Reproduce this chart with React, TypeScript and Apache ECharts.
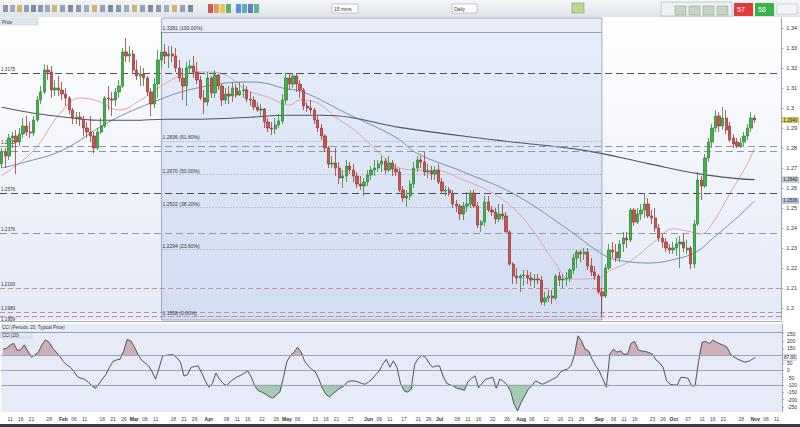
import React, { useEffect, useRef } from "react";
import * as echarts from "echarts";

// ---------- categories ----------
const START = Date.UTC(2019, 0, 9);
const DATA_DAYS = 213;
const FUTURE_DAYS = 7;
const MONTH_NAMES = ["Jan", "Feb", "Mar", "Apr", "May", "Jun", "Jul", "Aug", "Sep", "Oct", "Nov", "Dec"];
const DAY_MARKS = [6, 11, 16, 21, 26];

// ---------- OHLC [open, close, low, high] ----------
const jan = [
  [1.2720, 1.2780, 1.2700, 1.2800], [1.2780, 1.2760, 1.2700, 1.2800], [1.2760, 1.2850, 1.2740, 1.2870],
  [1.2850, 1.2860, 1.2800, 1.2880], [1.2860, 1.2830, 1.2670, 1.2890], [1.2830, 1.2870, 1.2810, 1.2900],
  [1.2870, 1.2910, 1.2850, 1.2950], [1.2910, 1.2880, 1.2860, 1.2960], [1.2880, 1.2875, 1.2850, 1.2930],
  [1.2875, 1.2940, 1.2860, 1.2960], [1.2940, 1.3040, 1.2930, 1.3060], [1.3040, 1.3080, 1.3020, 1.3110],
  [1.3080, 1.3190, 1.3070, 1.3218], [1.3190, 1.3180, 1.3140, 1.3215], [1.3180, 1.3090, 1.3050, 1.3210],
  [1.3090, 1.3100, 1.3060, 1.3140], [1.3100, 1.3090, 1.3060, 1.3160],
];
const feb = [
  [1.3090, 1.3070, 1.3040, 1.3130], [1.3070, 1.3050, 1.3010, 1.3100], [1.3050, 1.2990, 1.2970, 1.3060],
  [1.2990, 1.2950, 1.2920, 1.3000], [1.2950, 1.2955, 1.2920, 1.2980], [1.2955, 1.2945, 1.2910, 1.2980],
  [1.2945, 1.2900, 1.2860, 1.2960], [1.2900, 1.2880, 1.2850, 1.2930], [1.2880, 1.2860, 1.2830, 1.2960],
  [1.2860, 1.2800, 1.2773, 1.2880], [1.2800, 1.2880, 1.2790, 1.2900], [1.2880, 1.2910, 1.2870, 1.2950],
  [1.2910, 1.3050, 1.2900, 1.3060], [1.3050, 1.3045, 1.2990, 1.3110], [1.3045, 1.3040, 1.2960, 1.3080],
  [1.3040, 1.3080, 1.3010, 1.3100], [1.3080, 1.3110, 1.3050, 1.3140], [1.3110, 1.3280, 1.3100, 1.3300],
  [1.3280, 1.3260, 1.3230, 1.3350], [1.3260, 1.3270, 1.3230, 1.3310],
];
const mar = [
  [1.3270, 1.3190, 1.3170, 1.3290], [1.3190, 1.3160, 1.3140, 1.3240], [1.3160, 1.3170, 1.3110, 1.3210],
  [1.3170, 1.3150, 1.3110, 1.3200], [1.3150, 1.3080, 1.3060, 1.3160], [1.3080, 1.3020, 1.2960, 1.3100],
  [1.3020, 1.3120, 1.3000, 1.3150], [1.3120, 1.3240, 1.3050, 1.3290], [1.3240, 1.3280, 1.3200, 1.3381],
  [1.3280, 1.3260, 1.3220, 1.3320], [1.3260, 1.3270, 1.3200, 1.3310], [1.3270, 1.3260, 1.3230, 1.3310],
  [1.3260, 1.3200, 1.3180, 1.3300], [1.3200, 1.3150, 1.3130, 1.3240], [1.3150, 1.3110, 1.3040, 1.3200],
  [1.3110, 1.3200, 1.3010, 1.3230], [1.3200, 1.3210, 1.3170, 1.3240], [1.3210, 1.3180, 1.3150, 1.3260],
  [1.3180, 1.3140, 1.3120, 1.3230], [1.3140, 1.3050, 1.3040, 1.3160], [1.3050, 1.3030, 1.2970, 1.3090],
];
const apr = [
  [1.3030, 1.3150, 1.3010, 1.3180], [1.3150, 1.3075, 1.3050, 1.3160], [1.3075, 1.3165, 1.3050, 1.3190],
  [1.3165, 1.3110, 1.3090, 1.3170], [1.3110, 1.3040, 1.3010, 1.3120], [1.3040, 1.3070, 1.3020, 1.3100],
  [1.3070, 1.3060, 1.3020, 1.3110], [1.3060, 1.3100, 1.3030, 1.3130], [1.3100, 1.3065, 1.3050, 1.3120],
  [1.3065, 1.3085, 1.3060, 1.3130], [1.3085, 1.3090, 1.3050, 1.3120], [1.3090, 1.3045, 1.3030, 1.3110],
  [1.3045, 1.3040, 1.3010, 1.3080], [1.3040, 1.3005, 1.2990, 1.3060], [1.3005, 1.2990, 1.2980, 1.3030],
  [1.2990, 1.2995, 1.2960, 1.3020], [1.2995, 1.2930, 1.2900, 1.3000], [1.2930, 1.2900, 1.2880, 1.2950],
  [1.2900, 1.2895, 1.2865, 1.2930], [1.2895, 1.2915, 1.2870, 1.2950], [1.2915, 1.2935, 1.2900, 1.2970],
  [1.2935, 1.3040, 1.2920, 1.3070],
];
const may = [
  [1.3040, 1.3150, 1.3020, 1.3176], [1.3150, 1.3120, 1.3090, 1.3170], [1.3120, 1.3160, 1.3100, 1.3175],
  [1.3160, 1.3120, 1.3080, 1.3175], [1.3120, 1.3090, 1.3050, 1.3140], [1.3090, 1.3010, 1.2990, 1.3100],
  [1.3010, 1.3000, 1.2980, 1.3030], [1.3000, 1.2990, 1.2970, 1.3040], [1.2990, 1.2940, 1.2920, 1.3000],
  [1.2940, 1.2900, 1.2880, 1.2960], [1.2900, 1.2860, 1.2840, 1.2920], [1.2860, 1.2800, 1.2780, 1.2870],
  [1.2800, 1.2720, 1.2700, 1.2810], [1.2720, 1.2725, 1.2700, 1.2760], [1.2725, 1.2700, 1.2660, 1.2800],
  [1.2700, 1.2650, 1.2620, 1.2730], [1.2650, 1.2660, 1.2600, 1.2690], [1.2660, 1.2710, 1.2630, 1.2740],
  [1.2710, 1.2690, 1.2670, 1.2730], [1.2690, 1.2660, 1.2630, 1.2720], [1.2660, 1.2620, 1.2600, 1.2680],
  [1.2620, 1.2610, 1.2590, 1.2660], [1.2610, 1.2630, 1.2560, 1.2650],
];
const jun = [
  [1.2630, 1.2665, 1.2610, 1.2690], [1.2665, 1.2690, 1.2640, 1.2710], [1.2690, 1.2700, 1.2660, 1.2740],
  [1.2700, 1.2720, 1.2680, 1.2740], [1.2720, 1.2735, 1.2680, 1.2760], [1.2735, 1.2690, 1.2670, 1.2750],
  [1.2690, 1.2725, 1.2680, 1.2760], [1.2725, 1.2695, 1.2660, 1.2740], [1.2695, 1.2680, 1.2660, 1.2720],
  [1.2680, 1.2590, 1.2580, 1.2700], [1.2590, 1.2550, 1.2530, 1.2610], [1.2550, 1.2560, 1.2506, 1.2590],
  [1.2560, 1.2620, 1.2540, 1.2640], [1.2620, 1.2700, 1.2600, 1.2730], [1.2700, 1.2740, 1.2680, 1.2760],
  [1.2740, 1.2730, 1.2700, 1.2760], [1.2730, 1.2680, 1.2660, 1.2780], [1.2680, 1.2685, 1.2650, 1.2720],
  [1.2685, 1.2670, 1.2640, 1.2710], [1.2670, 1.2690, 1.2640, 1.2710],
];
const jul = [
  [1.2690, 1.2630, 1.2620, 1.2720], [1.2630, 1.2585, 1.2570, 1.2650], [1.2585, 1.2590, 1.2560, 1.2610],
  [1.2590, 1.2575, 1.2560, 1.2605], [1.2575, 1.2520, 1.2500, 1.2590], [1.2520, 1.2510, 1.2480, 1.2540],
  [1.2510, 1.2470, 1.2440, 1.2520], [1.2470, 1.2510, 1.2440, 1.2530], [1.2510, 1.2520, 1.2480, 1.2580],
  [1.2520, 1.2575, 1.2500, 1.2590], [1.2575, 1.2510, 1.2500, 1.2590], [1.2510, 1.2415, 1.2400, 1.2530],
  [1.2415, 1.2430, 1.2380, 1.2440], [1.2430, 1.2530, 1.2410, 1.2560], [1.2530, 1.2490, 1.2480, 1.2560],
  [1.2490, 1.2480, 1.2460, 1.2510], [1.2480, 1.2445, 1.2420, 1.2500], [1.2445, 1.2470, 1.2430, 1.2520],
  [1.2470, 1.2460, 1.2440, 1.2520], [1.2460, 1.2380, 1.2380, 1.2480], [1.2380, 1.2220, 1.2210, 1.2390],
  [1.2220, 1.2160, 1.2120, 1.2230], [1.2160, 1.2150, 1.2120, 1.2200],
];
const aug = [
  [1.2150, 1.2160, 1.2080, 1.2170], [1.2160, 1.2165, 1.2110, 1.2190], [1.2165, 1.2150, 1.2120, 1.2190],
  [1.2150, 1.2140, 1.2110, 1.2180], [1.2140, 1.2145, 1.2100, 1.2170], [1.2145, 1.2140, 1.2120, 1.2170],
  [1.2140, 1.2030, 1.2015, 1.2160], [1.2030, 1.2050, 1.2010, 1.2080], [1.2050, 1.2060, 1.2030, 1.2090],
  [1.2060, 1.2050, 1.2020, 1.2090], [1.2050, 1.2160, 1.2040, 1.2170], [1.2160, 1.2140, 1.2110, 1.2180],
  [1.2140, 1.2145, 1.2100, 1.2170], [1.2145, 1.2150, 1.2110, 1.2180], [1.2150, 1.2190, 1.2130, 1.2200],
  [1.2190, 1.2250, 1.2170, 1.2270], [1.2250, 1.2280, 1.2200, 1.2290], [1.2280, 1.2270, 1.2230, 1.2290],
  [1.2270, 1.2280, 1.2240, 1.2300], [1.2280, 1.2210, 1.2190, 1.2300], [1.2210, 1.2180, 1.2160, 1.2250],
  [1.2180, 1.2160, 1.2140, 1.2210],
];
const sep = [
  [1.2160, 1.2080, 1.2070, 1.2170], [1.2080, 1.2060, 1.1958, 1.2100], [1.2060, 1.2200, 1.2050, 1.2220],
  [1.2200, 1.2290, 1.2190, 1.2320], [1.2290, 1.2280, 1.2250, 1.2330], [1.2280, 1.2250, 1.2230, 1.2320],
  [1.2250, 1.2320, 1.2230, 1.2340], [1.2320, 1.2350, 1.2280, 1.2380], [1.2350, 1.2340, 1.2300, 1.2380],
  [1.2340, 1.2490, 1.2330, 1.2500], [1.2490, 1.2430, 1.2410, 1.2500], [1.2430, 1.2470, 1.2420, 1.2500],
  [1.2470, 1.2490, 1.2440, 1.2520], [1.2490, 1.2520, 1.2450, 1.2570], [1.2520, 1.2460, 1.2450, 1.2550],
  [1.2460, 1.2450, 1.2420, 1.2490], [1.2450, 1.2400, 1.2380, 1.2500], [1.2400, 1.2350, 1.2330, 1.2420],
  [1.2350, 1.2330, 1.2300, 1.2370], [1.2330, 1.2300, 1.2280, 1.2350], [1.2300, 1.2290, 1.2270, 1.2320],
];
const oct = [
  [1.2290, 1.2300, 1.2270, 1.2330], [1.2300, 1.2320, 1.2260, 1.2350], [1.2320, 1.2330, 1.2200, 1.2360],
  [1.2330, 1.2300, 1.2280, 1.2370], [1.2290, 1.2300, 1.2270, 1.2340], [1.2300, 1.2220, 1.2195, 1.2310],
  [1.2220, 1.2420, 1.2200, 1.2440], [1.2420, 1.2640, 1.2410, 1.2680], [1.2640, 1.2610, 1.2540, 1.2660],
  [1.2610, 1.2750, 1.2600, 1.2770], [1.2750, 1.2830, 1.2730, 1.2850], [1.2830, 1.2900, 1.2800, 1.2920],
  [1.2900, 1.2960, 1.2880, 1.2990], [1.2960, 1.2910, 1.2880, 1.2980], [1.2910, 1.2950, 1.2890, 1.3005],
  [1.2950, 1.2890, 1.2870, 1.2990], [1.2910, 1.2840, 1.2830, 1.2930], [1.2850, 1.2820, 1.2800, 1.2870],
  [1.2830, 1.2810, 1.2800, 1.2850], [1.2810, 1.2825, 1.2800, 1.2850], [1.2830, 1.2860, 1.2810, 1.2880],
  [1.2860, 1.2900, 1.2840, 1.2920], [1.2900, 1.2950, 1.2880, 1.2980],
];
const nov = [[1.2950, 1.2940, 1.2925, 1.2965]];

// ---------- moving averages: [day index, value] ----------
const maRed = [
  [0, 1.2662], [9, 1.2788], [16, 1.2964], [22, 1.3050], [27, 1.3035], [33, 1.2990], [39, 1.3039], [44, 1.3100],
  [51, 1.3165], [58, 1.3180], [63, 1.3165], [69, 1.3089], [75, 1.3054], [81, 1.3014], [84, 1.3040], [89, 1.3024],
  [94, 1.2954], [100, 1.2880], [106, 1.2780], [112, 1.2700], [117, 1.2690], [123, 1.2687], [130, 1.2640],
  [137, 1.2587], [144, 1.2500], [149, 1.2401], [156, 1.2220], [160, 1.2144], [168, 1.2149], [171, 1.2185],
  [177, 1.2235], [184, 1.2335], [189, 1.2396], [193, 1.2385], [197, 1.2370], [200, 1.2421], [205, 1.2572],
  [210, 1.2722], [212, 1.2800],
];
const maBlue = [
  [0, 1.2700], [5, 1.2722], [17, 1.2788], [30, 1.2929], [44, 1.3039], [55, 1.3100], [69, 1.3130], [74, 1.3125],
  [79, 1.3100], [85, 1.3079], [97, 1.2974], [111, 1.2853], [117, 1.2773], [130, 1.2680], [144, 1.2572],
  [158, 1.2411], [170, 1.2260], [175, 1.2235], [182, 1.2225], [191, 1.2250], [196, 1.2285], [200, 1.2345],
  [207, 1.2451], [212, 1.2536],
];
const maDark = [
  [0, 1.3004], [9, 1.2974], [18, 1.2954], [27, 1.2939], [37, 1.2939], [46, 1.2944], [56, 1.2944], [70, 1.2954],
  [80, 1.2964], [90, 1.2964], [98, 1.2954], [112, 1.2903], [140, 1.2838], [164, 1.2788], [182, 1.2722],
  [196, 1.2672], [207, 1.2647], [212, 1.2642],
];

// ---------- CCI (20) ----------
const cciValues = [
  143, 150, 170, 184, 135, 140, 173, 130, 89, 105,
  123, 175, 207, 190, 150, 123, 95, 60, 35, 20,
  -10, -45, -55, -62, -80, -105, -125, -95, -60, -30,
  20, 60, 70, 75, 130, 210, 200, 160, 109, 70,
  50, 30, -10, -61, 15, 98, 102, 105, 105, 85,
  55, -40, -30, 20, 25, 29, -20, -73, -116, -90,
  -20, -60, -90, -105, -80, -61, -45, -35, -20, -5,
  -50, -110, -141, -150, -164, -180, -191, -170, -150, -50,
  60, 100, 123, 157, 123, 60, 30, 5, -10, -60,
  -125, -165, -182, -160, -141, -120, -110, -80, -73, -73,
  -80, -90, -96, -80, -61, -30, -5, 40, 75, 20,
  64, 20, -90, -140, -150, -130, 40, 80, 100, 90,
  50, 20, 29, 29, -40, -89, -100, -110, -123, -130,
  -137, -80, -55, -39, -120, -90, -61, -55, -48, -123,
  -61, -75, -100, -141, -230, -278, -220, -175, -130, -107,
  -73, -85, -96, -85, -73, -60, -48, -15, 0, 7,
  29, 100, 234, 200, 143, 132, 75, 30, -5, -60,
  -116, 110, 143, 123, 132, 109, 110, 185, 196, 140,
  130, 128, 120, 109, 70, 50, 20, -73, -96, -100,
  -102, -48, -50, -55, -107, -107, 60, 191, 196, 182,
  205, 191, 180, 170, 157, 109, 90, 75, 65, 55,
  60, 73, 87,
];

// ---------- levels ----------
const fibLevels = [1.3381, 1.2836, 1.2670, 1.2502, 1.2294, 1.1958];
const fibPercents = ["100.00%", "61.80%", "50.00%", "38.20%", "23.60%", "0.00%"];
const FIB_START = 45;
const FIB_END = 169;
const levelValues = [1.3175, 1.2808, 1.2783, 1.2576, 1.2376, 1.2100, 1.1980, 1.1959];
const levelKinds = ["dark", "gray", "gray", "dark", "gray", "pink", "pink", "pink"];
const levelShowLabel = [true, true, false, true, true, true, true, true];
const levelLabelBelow = [false, false, false, false, false, false, false, true];
const priceTicks = [1.20, 1.21, 1.22, 1.23, 1.24, 1.25, 1.26, 1.27, 1.28, 1.29, 1.30, 1.31, 1.32, 1.33, 1.34];
const cciTicks = [-250, -200, -150, -100, -50, 0, 50, 100, 150, 200, 250];
const cciLabelTicks = [-250, -200, -150, -100, -50, 0, 50, 150, 200, 250];

function buildDates(): Date[] {
  const out: Date[] = [];
  let t = START;
  while (out.length < DATA_DAYS + FUTURE_DAYS) {
    const d = new Date(t);
    const wd = d.getUTCDay();
    if (wd !== 0 && wd !== 6) out.push(d);
    t += 86400000;
  }
  return out;
}

export default function App() {
  const ref = useRef<HTMLDivElement>(null);

  useEffect(() => {
    if (!ref.current) return;
    const chart = echarts.init(ref.current, undefined, { renderer: "svg" });

    const dateObjs = buildDates();
    const dates = dateObjs.map((d) => d.toISOString().slice(0, 10));
    const xLabels = dateObjs.map((d, i) => {
      if (i === 0) return "";
      const p = dateObjs[i - 1];
      if (p.getUTCMonth() !== d.getUTCMonth()) return `{m|${MONTH_NAMES[d.getUTCMonth()]}}`;
      const prevDay = p.getUTCDate();
      const day = d.getUTCDate();
      if (DAY_MARKS.some((m) => prevDay < m && m <= day)) return String(day).padStart(2, "0");
      return "";
    });

    const ohlc = [...jan, ...feb, ...mar, ...apr, ...may, ...jun, ...jul, ...aug, ...sep, ...oct, ...nov];
    const toSeries = (arr: number[][]) => arr.map(([i, v]) => [dates[i], v]);
    const cciUp = cciValues.map((v) => (v > 100 ? v : 100));
    const cciDown = cciValues.map((v) => (v < -100 ? v : -100));
    const lastClose = ohlc[ohlc.length - 1][1];
    const lastDark = maDark[maDark.length - 1][1];
    const lastBlue = maBlue[maBlue.length - 1][1];
    const lastCci = cciValues[cciValues.length - 1];

    const levelStyle: Record<string, any> = {
      dark: { color: "#4a4f5c", type: [7, 4], width: 1 },
      gray: { color: "#9097a8", type: [7, 4], width: 1 },
      pink: { color: "#d38a98", type: [5, 3], width: 1 },
    };

    const smallLabel = { fontSize: 5, color: "#333", distance: 1 };
    const hiddenLine = { color: "rgba(0,0,0,0)", width: 0 };

    const fibLines = fibLevels.map((lv, k) => [
      {
        coord: [dates[FIB_START], lv],
        lineStyle: k === 0 ? { color: "#9aa0b0", type: "solid", width: 1 } : { color: "#9aa0b0", type: [1, 2], width: 1 },
        label: { show: true, position: "insideStartTop", formatter: `${lv.toFixed(4)} (${fibPercents[k]})`, ...smallLabel },
      },
      { coord: [dates[FIB_END], lv] },
    ]);

    const levelLines = levelValues.map((lv, k) => ({
      yAxis: lv,
      lineStyle: levelStyle[levelKinds[k]],
      label: {
        show: levelShowLabel[k], position: levelLabelBelow[k] ? "insideStartBottom" : "insideStartTop",
        formatter: lv.toFixed(4), ...smallLabel, fontSize: 4.6,
      },
    }));

    const tag = (v: number, bg: string, text: string) => ({
      yAxis: v,
      lineStyle: hiddenLine,
      label: {
        show: true, position: "end", formatter: text, backgroundColor: bg, color: "#222",
        fontSize: 4.6, lineHeight: 5, padding: [0, 1], distance: 1, borderColor: "#8890a0", borderWidth: 0.4,
      },
    });

    const toolbarIcons = [3, 10, 17, 24, 31, 38, 45, 52, 60, 68, 76, 84, 92, 100, 108, 116, 124, 132, 140, 148, 156, 164, 172, 180, 188];
    const iconColors = ["#6a7890", "#8494a8", "#c8a040", "#7088a8", "#5a6a80"];
    const colorBlocks = [
      { x: 208, c: "#d04040" }, { x: 214, c: "#e09040" }, { x: 220, c: "#e0c040" }, { x: 226, c: "#50a050" },
      { x: 236, c: "#4080d0" }, { x: 242, c: "#40a0c0" }, { x: 248, c: "#6060c0" }, { x: 254, c: "#40b080" },
    ];

    const graphic: any[] = [
      {
        type: "rect", shape: { x: 0, y: 0, width: 800, height: 17 },
        style: { fill: new echarts.graphic.LinearGradient(0, 0, 0, 1, [{ offset: 0, color: "#f4f6f8" }, { offset: 1, color: "#dfe4ea" }]) },
        silent: true,
      },
      ...toolbarIcons.map((x, i) => ({
        type: "rect", shape: { x, y: 5, width: 5, height: 7 },
        style: { fill: iconColors[i % iconColors.length], opacity: 0.75 }, silent: true,
      })),
      ...colorBlocks.map((b) => ({
        type: "rect", shape: { x: b.x, y: 4, width: 5, height: 9 }, style: { fill: b.c, opacity: 0.85 }, silent: true,
      })),
      { type: "rect", shape: { x: 332, y: 4, width: 26, height: 9 }, style: { fill: "#ffffff", stroke: "#9aa4b0", lineWidth: 0.6 }, silent: true },
      { type: "text", x: 334, y: 6, style: { text: "15 mins", fontSize: 5, fill: "#333" }, silent: true },
      { type: "rect", shape: { x: 452, y: 4, width: 25, height: 9 }, style: { fill: "#ffffff", stroke: "#9aa4b0", lineWidth: 0.6 }, silent: true },
      { type: "text", x: 454, y: 6, style: { text: "Daily", fontSize: 5, fill: "#333" }, silent: true },
      { type: "rect", shape: { x: 572, y: 3, width: 12, height: 10 }, style: { fill: "#b8d890", stroke: "#7a9a60", lineWidth: 0.6 }, silent: true },
      { type: "rect", shape: { x: 661, y: 2, width: 71, height: 14 }, style: { fill: "#eef1f4", stroke: "#a8b0bc", lineWidth: 0.6 }, silent: true },
      ...[675, 689, 703, 717].map((x) => ({
        type: "rect", shape: { x, y: 6, width: 11, height: 9 }, style: { fill: "#c8d4c0", stroke: "#8a9a88", lineWidth: 0.5 }, silent: true,
      })),
      { type: "rect", shape: { x: 734, y: 3, width: 19, height: 13 }, style: { fill: "#e23a3a" }, silent: true },
      { type: "text", x: 737, y: 6, style: { text: "57", fontSize: 7, fill: "#ffffff" }, silent: true },
      { type: "rect", shape: { x: 755, y: 3, width: 19, height: 13 }, style: { fill: "#3cb04a" }, silent: true },
      { type: "text", x: 758, y: 6, style: { text: "58", fontSize: 7, fill: "#ffffff" }, silent: true },
      { type: "rect", shape: { x: 777, y: 4, width: 20, height: 10 }, style: { fill: "#f2f4f6", stroke: "#b0b8c0", lineWidth: 0.5 }, silent: true },
      { type: "rect", shape: { x: 0, y: 18, width: 38, height: 7 }, style: { fill: "#dfe6ec", stroke: "#b0bac4", lineWidth: 0.4 }, silent: true },
      { type: "text", x: 2, y: 19.5, style: { text: "Price", fontSize: 4.5, fill: "#333" }, silent: true },
      { type: "text", x: 2, y: 325, style: { text: "CCI (Periods: 20, Typical Price)", fontSize: 4.5, fill: "#333" }, silent: true },
      { type: "rect", shape: { x: 0, y: 332, width: 32, height: 6 }, style: { fill: "#dfe6ec", stroke: "#b0bac4", lineWidth: 0.4 }, silent: true },
      { type: "text", x: 2, y: 333, style: { text: "CCI (20)", fontSize: 4.5, fill: "#333" }, silent: true },
      { type: "rect", shape: { x: 0, y: 424, width: 800, height: 3 }, style: { fill: "#3a3d44" }, silent: true },
      { type: "line", shape: { x1: 0, y1: 321.5, x2: 783, y2: 321.5 }, style: { stroke: "#a8b0c0", lineWidth: 1 }, silent: true },
    ];

    const option: any = {
      animation: false,
      backgroundColor: "#ffffff",
      textStyle: { fontFamily: "Liberation Sans, Arial, sans-serif" },
      graphic,
      grid: [
        {
          left: 0, right: 17, top: 18, height: 302, show: true, borderWidth: 0,
          backgroundColor: new echarts.graphic.LinearGradient(0, 0, 0, 1, [
            { offset: 0, color: "#ffffff" }, { offset: 1, color: "#e3e9f6" },
          ]),
        },
        { left: 0, right: 17, top: 324, height: 88, show: true, borderWidth: 0, backgroundColor: "#e6ebf7" },
      ],
      xAxis: [
        {
          type: "category", gridIndex: 0, data: dates, boundaryGap: true,
          axisLine: { show: false }, axisTick: { show: false }, axisLabel: { show: false }, splitLine: { show: false },
        },
        {
          type: "category", gridIndex: 1, data: dates, boundaryGap: true,
          axisLine: { show: true, lineStyle: { color: "#a0a8b8" } }, axisTick: { show: false }, splitLine: { show: false },
          axisLabel: {
            interval: 0, formatter: (_v: string, i: number) => xLabels[i], fontSize: 5, color: "#444", margin: 4,
            rich: { m: { fontSize: 5, fontWeight: "bold", color: "#333" } },
          },
        },
      ],
      yAxis: [
        {
          type: "value", gridIndex: 0, position: "right", min: 1.194, max: 1.345, scale: true,
          axisLine: { show: true, lineStyle: { color: "#a0a8b8" } },
          axisTick: { show: true, length: 2, customValues: priceTicks, lineStyle: { color: "#a0a8b8" } },
          axisLabel: {
            customValues: priceTicks, fontSize: 5.5, color: "#333", margin: 5,
            formatter: (v: number) => String(Number(v.toFixed(2))),
          },
          splitLine: { show: false },
        },
        {
          type: "value", gridIndex: 1, position: "right", min: -285, max: 315,
          axisLine: { show: true, lineStyle: { color: "#a0a8b8" } },
          axisTick: { show: true, length: 2, customValues: cciTicks, lineStyle: { color: "#a0a8b8" } },
          axisLabel: { customValues: cciLabelTicks, fontSize: 5, color: "#333", margin: 5 },
          splitLine: { show: false },
        },
      ],
      series: [
        {
          type: "candlestick", name: "GBP/USD", xAxisIndex: 0, yAxisIndex: 0, data: ohlc, barWidth: 2.8,
          itemStyle: { color: "#46b04c", color0: "#c9574f", borderColor: "#2f8a36", borderColor0: "#9c3c37", borderWidth: 0.8 },
          markArea: {
            silent: true,
            itemStyle: { color: "rgba(168,192,232,0.28)", borderColor: "#8f98b0", borderWidth: 0.8 },
            data: [[{ xAxis: dates[FIB_START] }, { xAxis: dates[FIB_END] }]],
          },
          markLine: {
            silent: true, symbol: ["none", "none"], animation: false, precision: 4,
            data: [
              ...levelLines,
              ...fibLines,
              tag(lastClose, "#e8d448", lastClose.toFixed(4)),
              tag(lastDark, "#c4c8d0", lastDark.toFixed(4)),
              tag(lastBlue, "#b9c9ee", lastBlue.toFixed(4)),
            ],
          },
          z: 5,
        },
        {
          type: "line", name: "MA red", xAxisIndex: 0, yAxisIndex: 0, data: toSeries(maRed), smooth: 0.4,
          symbol: "none", lineStyle: { color: "#e2a3a6", width: 1 }, z: 3,
        },
        {
          type: "line", name: "MA blue", xAxisIndex: 0, yAxisIndex: 0, data: toSeries(maBlue), smooth: 0.4,
          symbol: "none", lineStyle: { color: "#7b8cb4", width: 1 }, z: 3,
        },
        {
          type: "line", name: "MA dark", xAxisIndex: 0, yAxisIndex: 0, data: toSeries(maDark), smooth: 0.4,
          symbol: "none", lineStyle: { color: "#4f5566", width: 1.1 }, z: 3,
        },
        {
          type: "line", name: "CCI up", xAxisIndex: 1, yAxisIndex: 1, data: cciUp, symbol: "none",
          lineStyle: { width: 0 }, areaStyle: { origin: 100, color: "rgba(186,110,112,0.7)" }, z: 2,
        },
        {
          type: "line", name: "CCI down", xAxisIndex: 1, yAxisIndex: 1, data: cciDown, symbol: "none",
          lineStyle: { width: 0 }, areaStyle: { origin: -100, color: "rgba(96,170,104,0.7)" }, z: 2,
        },
        {
          type: "line", name: "CCI", xAxisIndex: 1, yAxisIndex: 1, data: cciValues, symbol: "none",
          lineStyle: { color: "#4e5360", width: 1 }, z: 4,
          markLine: {
            silent: true, symbol: ["none", "none"], precision: 4,
            data: [
              { yAxis: 260, lineStyle: { color: "#9aa0b8", type: "solid", width: 1 }, label: { show: false } },
              { yAxis: 100, lineStyle: { color: "#9aa0b8", type: "solid", width: 1 }, label: { show: false } },
              { yAxis: -100, lineStyle: { color: "#9aa0b8", type: "solid", width: 1 }, label: { show: false } },
              {
                yAxis: lastCci, lineStyle: hiddenLine,
                label: {
                  show: true, position: "end", formatter: lastCci.toFixed(2), fontSize: 4.6, lineHeight: 5, color: "#222",
                  backgroundColor: "#eef0f4", borderColor: "#8890a0", borderWidth: 0.4, padding: [0, 1], distance: 1,
                },
              },
            ],
          },
        },
      ],
    };

    chart.setOption(option);
    return () => chart.dispose();
  }, []);

  return <div ref={ref} style={{ position: "fixed", left: 0, top: 0, width: 800, height: 427 }} />;
}
